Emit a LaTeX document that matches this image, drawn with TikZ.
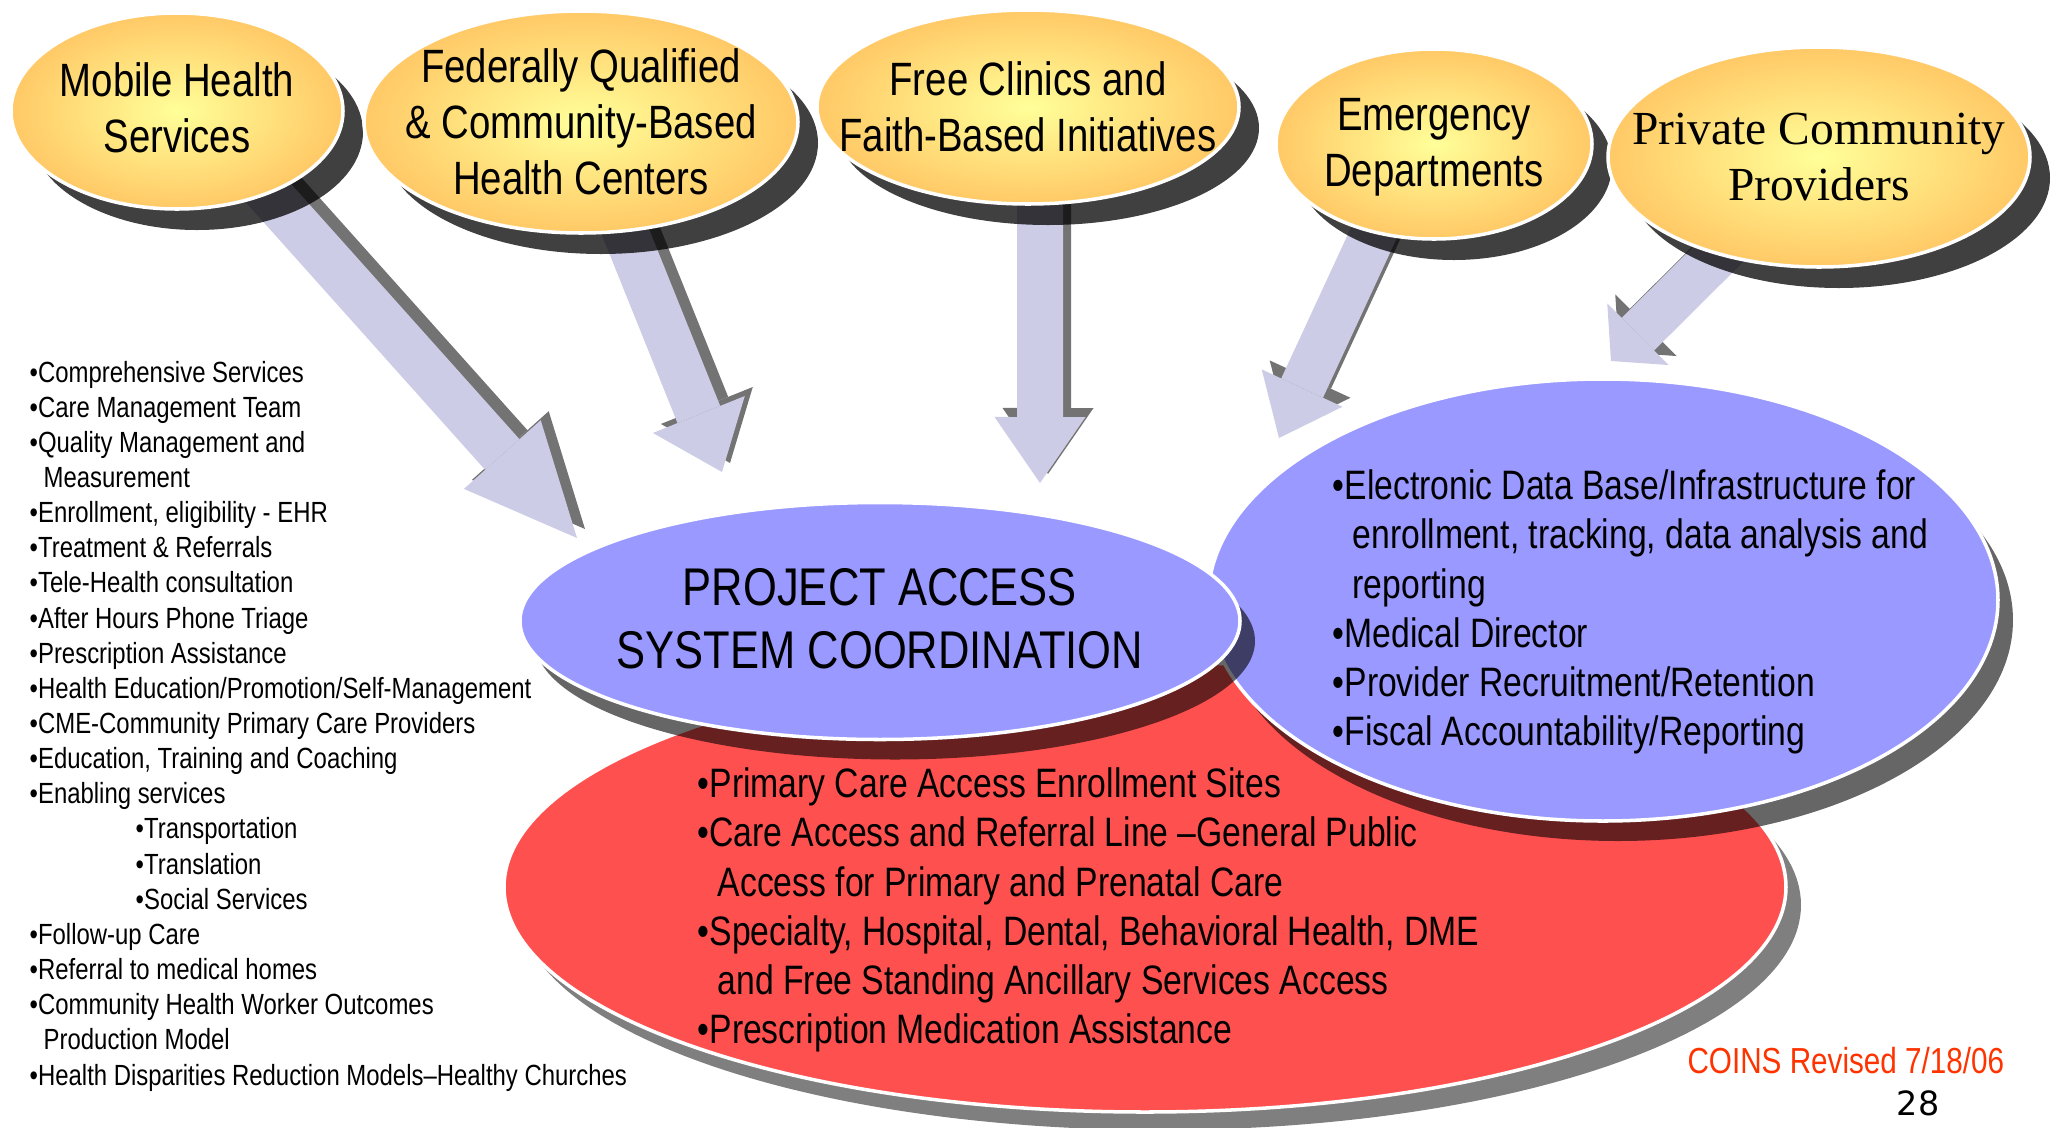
\documentclass[tikz,border=0pt]{standalone}
\usepackage{fontspec}
\setmainfont{Liberation Sans}[FakeStretch=0.82]
\newfontfamily\providerfont{Liberation Serif}
\newfontfamily\pagefont{DejaVu Sans}
\usetikzlibrary{shapes.geometric,shadows,arrows.meta,backgrounds}
\definecolor{bubbleInner}{HTML}{FFFF99}
\definecolor{bubbleOuter}{HTML}{FFC966}
\definecolor{hubBlue}{HTML}{9999FF}
\definecolor{baseRed}{HTML}{FF5050}
\definecolor{feedColor}{HTML}{CCCCE6}
\definecolor{coinsRed}{HTML}{FF3300}
\begin{document}
\begin{tikzpicture}
        [bubble/.style={ellipse, draw=white, line width=1pt, inner color=bubbleInner, outer color=bubbleOuter,
            drop shadow={shadow xshift=0.2cm, shadow yshift=-0.21cm, fill=black, opacity=0.75}},
        bubbleText/.style={align=center, inner sep=0pt, font=\fontsize{13.3}{16}\selectfont},
        hub/.style={ellipse, draw=white, line width=1pt, fill=hubBlue,
            drop shadow={shadow xshift=0.15cm, shadow yshift=-0.2cm, fill=black, opacity=0.6}},
        base/.style={ellipse, draw=white, line width=1pt, fill=baseRed,
            drop shadow={shadow xshift=0.15cm, shadow yshift=-0.18cm, fill=black, opacity=0.5}},
        bulletText/.style={align=left, inner sep=0pt, font=\fontsize{11.7}{14}\selectfont},
        listText/.style={align=left, inner sep=0pt, font=\fontsize{8.3}{10}\selectfont},
        feed/.style 2 args={line width=0.46cm, draw=feedColor, shorten <=-0.3cm,
            -{Triangle[width=#1, length=#2, line width=0pt]}},
        feedShadow/.style 2 args={feed={#1}{#2}, draw=black!55, transform canvas={shift={(0.08,0.09)}}}]
        \useasboundingbox (0,0) rectangle (20.51,-11.28);

        % lower ellipses
        \node[base, minimum width=12.82cm, minimum height=4.5cm] (access) at (11.45,-8.87) {};
        \node[hub, minimum width=7.9cm, minimum height=4.42cm] (support) at (16.03,-6.0) {};
        \node[hub, minimum width=7.2cm, minimum height=2.37cm] (hub) at (8.8,-6.21) {};

        \node[bubbleText, font=\fontsize{15.1}{17.9}\selectfont] (hubText) at (8.8,-6.19) {PROJECT ACCESS\\SYSTEM COORDINATION};
        \node[bulletText, anchor=west] (supportText) at (13.32,-6.12)
            {•Electronic Data Base/Infrastructure for\\
             \hspace*{0.2cm}enrollment, tracking, data analysis and\\
             \hspace*{0.2cm}reporting\\
             •Medical Director\\
             •Provider Recruitment/Retention\\
             •Fiscal Accountability/Reporting};
        \node[bulletText, anchor=west] (accessText) at (6.97,-9.1)
            {•Primary Care Access Enrollment Sites\\
             •Care Access and Referral Line –General Public\\
             \hspace*{0.2cm}Access for Primary and Prenatal Care\\
             •Specialty, Hospital, Dental, Behavioral Health, DME\\
             \hspace*{0.2cm}and Free Standing Ancillary Services Access\\
             •Prescription Medication Assistance};

        % top ellipses
        \node[bubble, minimum width=3.32cm, minimum height=1.96cm] (mobile) at (1.77,-1.11) {};
        \node[bubble, minimum width=4.34cm, minimum height=2.22cm] (fqhc) at (5.81,-1.22) {};
        \node[bubble, minimum width=4.22cm, minimum height=1.94cm] (free) at (10.28,-1.07) {};
        \node[bubble, minimum width=3.16cm, minimum height=1.9cm] (emergency) at (14.34,-1.44) {};
        \node[bubble, minimum width=4.22cm, minimum height=2.2cm] (private) at (18.19,-1.57) {};

        \node[bubbleText] (mobileText) at (1.77,-1.08) {Mobile Health\\Services};
        \node[bubbleText] (fqhcText) at (fqhc) {Federally Qualified\\\& Community-Based\\Health Centers};
        \node[bubbleText] (freeText) at (free) {Free Clinics and\\Faith-Based Initiatives};
        \node[bubbleText] (emergencyText) at (14.34,-1.47) {Emergency\\Departments};
        \node[bubbleText, font=\providerfont\fontsize{13.5}{16}\selectfont] (privateText) at (private) {Private Community\\Providers};

        \coordinate (mobileTip) at (5.77,-5.38);
        \coordinate (fqhcTip) at (7.22,-4.72);
        \coordinate (freeTip) at (10.4,-4.83);
        \coordinate (emergencyTip) at (12.79,-4.38);
        \coordinate (privateTip) at (16.11,-3.61);

        \begin{scope}[on background layer]
        \draw[feedShadow={1.03cm}{1.12cm}] (mobile.-42) -- (mobileTip);
        \draw[feed={1.03cm}{1.12cm}] (mobile.-42) -- (mobileTip);
        \draw[feedShadow={0.99cm}{0.62cm}] (fqhc.-68) -- (fqhcTip);
        \draw[feed={0.99cm}{0.62cm}] (fqhc.-68) -- (fqhcTip);
        \draw[feedShadow={0.91cm}{0.66cm}] (free.-83) -- (freeTip);
        \draw[feed={0.91cm}{0.66cm}] (free.-83) -- (freeTip);
        \draw[feedShadow={0.89cm}{0.55cm}] (emergency.-124) -- (emergencyTip);
        \draw[feed={0.89cm}{0.55cm}] (emergency.-124) -- (emergencyTip);
        \draw[feedShadow={0.87cm}{0.38cm}] (private.-136) -- (privateTip);
        \draw[feed={0.87cm}{0.38cm}] (private.-136) -- (privateTip);
        \end{scope}

        \node[listText, anchor=west] (services) at (0.29,-7.26)
            {•Comprehensive Services\\
             •Care Management Team\\
             •Quality Management and\\
             \hspace*{0.14cm}Measurement\\
             •Enrollment, eligibility - EHR\\
             •Treatment \& Referrals\\
             •Tele-Health consultation\\
             •After Hours Phone Triage\\
             •Prescription Assistance\\
             •Health Education/Promotion/Self-Management\\
             •CME-Community Primary Care Providers\\
             •Education, Training and Coaching\\
             •Enabling services\\
             \hspace*{1.06cm}•Transportation\\
             \hspace*{1.06cm}•Translation\\
             \hspace*{1.06cm}•Social Services\\
             •Follow-up Care\\
             •Referral to medical homes\\
             •Community Health Worker Outcomes\\
             \hspace*{0.14cm}Production Model\\
             •Health Disparities Reduction Models–Healthy Churches};

        \node[anchor=east, inner sep=0pt, text=coinsRed, font=\fontsize{10.3}{12}\selectfont] (revised) at (20.05,-10.61) {COINS Revised 7/18/06};
        \node[inner sep=0pt, font=\pagefont\fontsize{9.5}{11}\selectfont] (pageNo) at (19.18,-11.03) {28};
\end{tikzpicture}
\end{document}
